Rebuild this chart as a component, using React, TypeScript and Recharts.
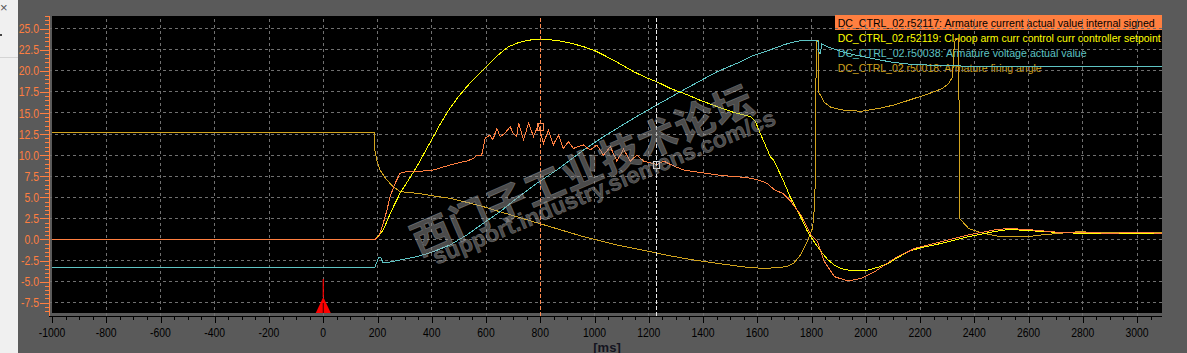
import React from 'react';
import { LineChart, Line, XAxis, YAxis, ReferenceLine, ReferenceDot } from 'recharts';

// ---------- data (time in ms, value) ----------
const currentActual: [number, number][] = [
  [-1000, 0], [190, 0], [205, 0.4], [221, 1.9], [235, 3.5], [246, 5.07], [265, 6.66], [283, 7.85], [300, 8.0],
  [345, 8.04], [406, 8.24], [467, 8.83], [529, 9.31], [555, 9.6], [566, 10.0], [584, 10.0], [597, 12.0],
  [615, 12.4], [625, 11.8], [640, 13.19], [652, 12.19], [670, 12.6], [689, 13.38], [700, 12.6], [713, 12.2],
  [720, 13.85], [738, 11.8], [757, 13.8], [775, 12.2], [793, 13.6], [812, 11.4], [830, 13.0], [848, 11.2],
  [867, 12.4], [885, 10.8], [904, 11.6], [922, 10.8], [940, 11.0], [959, 11.2], [984, 10.6], [1009, 11.2],
  [1033, 10.0], [1058, 11.0], [1082, 9.3], [1107, 10.7], [1132, 9.3], [1156, 10.0], [1181, 9.3], [1205, 9.1],
  [1230, 8.9], [1255, 9.3], [1279, 8.9], [1328, 8.24], [1400, 7.9], [1452, 7.65], [1500, 7.5], [1537, 7.41],
  [1575, 7.26], [1610, 7.0], [1636, 6.66], [1662, 5.93], [1697, 5.4], [1723, 4.54], [1760, 2.95], [1798, 0.55],
  [1822, -0.24], [1847, -2.62], [1885, -4.42], [1934, -4.93], [1983, -4.62], [2033, -3.82], [2107, -2.23],
  [2182, -1.03], [2280, -0.24], [2380, 0.55], [2479, 1.16], [2528, 1.3], [2602, 1.16], [2714, 0.84],
  [2800, 0.8], [2900, 0.75], [3000, 0.8], [3092, 0.75],
];

const currentSetpoint: [number, number][] = [
  [-1000, 0], [192, 0], [221, 1.12], [250, 3.3], [283, 5.48], [315, 7.1], [345, 8.63], [375, 10.4],
  [406, 12.19], [435, 13.9], [467, 15.56], [500, 17.0], [529, 18.12], [560, 19.2], [590, 20.1], [620, 21.1],
  [652, 22.08], [680, 22.8], [713, 23.27], [750, 23.6], [787, 23.74], [825, 23.7], [861, 23.6], [910, 23.3],
  [959, 22.87], [1000, 22.4], [1033, 21.88], [1090, 20.9], [1144, 19.9], [1190, 19.2], [1230, 18.7],
  [1280, 17.9], [1328, 17.34], [1390, 16.5], [1452, 15.75], [1510, 15.1], [1575, 14.56], [1593, 13.97],
  [1612, 12.5], [1648, 9.82], [1662, 9.32], [1697, 6.9], [1723, 4.93], [1760, 2.7], [1785, 0.96],
  [1810, -0.3], [1835, -1.43], [1860, -2.4], [1884, -3.03], [1910, -3.45], [1934, -3.62], [1970, -3.7],
  [2008, -3.62], [2045, -3.3], [2083, -2.83], [2120, -2.1], [2157, -1.43], [2200, -1.0], [2256, -0.63],
  [2300, -0.3], [2355, 0.16], [2420, 0.6], [2479, 0.96], [2528, 1.2], [2627, 1.0], [2700, 0.85],
  [2775, 0.75], [2900, 0.75], [3092, 0.75],
];

const armatureVoltage: [number, number][] = [
  [-1000, -3.38], [190, -3.38], [195, -2.9], [205, -2.1], [212, -2.1], [220, -2.8], [250, -2.65],
  [283, -2.43], [345, -2.04], [406, -1.45], [467, -0.66], [529, 0.53], [590, 1.92], [652, 3.3], [713, 4.88],
  [787, 6.66], [861, 8.24], [959, 10.61], [1033, 12.19], [1144, 14.37], [1230, 15.95], [1328, 17.73],
  [1452, 19.9], [1537, 21.05], [1575, 21.68], [1662, 22.65], [1697, 23.07], [1723, 23.33], [1759, 23.58],
  [1785, 23.57], [1816, 23.6], [1825, 23.5], [1828, 22.05], [1833, 22.05], [1837, 23.2], [1859, 22.85],
  [1909, 22.3], [1970, 21.8], [2033, 21.4], [2100, 21.0], [2157, 20.8], [2220, 20.7], [2280, 20.6],
  [2400, 20.55], [2600, 20.55], [2800, 20.5], [3092, 20.55],
];

const firingAngle: [number, number][] = [
  [-1000, 12.67], [188, 12.67], [190, 10.6], [197, 9.43], [209, 8.24], [234, 7.06], [258, 6.26],
  [283, 5.67], [345, 5.48], [400, 5.2], [467, 4.88], [530, 4.4], [590, 3.89], [650, 3.3], [713, 2.7],
  [775, 2.1], [836, 1.52], [900, 0.9], [959, 0.33], [1020, -0.15], [1082, -0.66], [1145, -1.05],
  [1205, -1.45], [1265, -1.85], [1328, -2.23], [1390, -2.55], [1452, -2.83], [1515, -3.1], [1575, -3.35],
  [1630, -3.42], [1673, -3.35], [1710, -3.2], [1734, -2.83], [1759, -1.84], [1785, -0.24], [1804, 1.36],
  [1810, 3.5], [1813, 6.13], [1816, 18.1], [1819, 23.65], [1824, 23.65], [1826, 17.48], [1847, 16.28],
  [1870, 15.7], [1909, 15.37], [1983, 15.2], [2058, 15.6], [2110, 16.0], [2157, 16.49], [2231, 17.28],
  [2280, 17.87], [2305, 18.47], [2320, 19.27], [2325, 22.45], [2330, 23.84], [2343, 23.84], [2345, 2.55],
  [2355, 2.16], [2380, 1.28], [2430, 0.77], [2492, 0.36], [2602, 0.36], [2652, 0.55], [2775, 0.9],
  [2900, 0.85], [3092, 0.8],
];

const seriesNames = [
  'DC_CTRL_02.r52117: Armature current actual value internal signed',
  'DC_CTRL_02.r52119: Cl-loop arm curr control curr controller setpoint',
  'DC_CTRL_02.r50038: Armature voltage actual value',
  'DC_CTRL_02.r50018: Armature firing angle',
];
const seriesColors = ['#ff7f40', '#ffff00', '#5ec4c4', '#d2a41e'];
const legendWidths = [317, 323, 249, 204];

const xMajorTicks = [-1000, -800, -600, -400, -200, 0, 200, 400, 600, 800, 1000, 1200, 1400, 1600, 1800, 2000, 2200, 2400, 2600, 2800, 3000];
const yMajorTicks = [-7.5, -5, -2.5, 0, 2.5, 5, 7.5, 10, 12.5, 15, 17.5, 20, 22.5, 25];
const xMinorOffsets = [0, 50, 100, 150];
const yMinorOffsets = [-1, -0.5, 0, 0.5, 1, 1.5];
const xDomain: [number, number] = [-1000, 3092];
const yDomain: [number, number] = [-8.72, 26.5];
const cursorA = 800;
const cursorB = 1230;
const triggerTime = 0;
const markA = 13.38;
const markB = 8.89;

const xTicks = Array.from(new Set(xMajorTicks.flatMap((t) => xMinorOffsets.map((o) => t + o)))).filter((t) => t <= xDomain[1]);
const yTicks = Array.from(new Set(yMajorTicks.flatMap((t) => yMinorOffsets.map((o) => +(t + o).toFixed(1))))).filter((t) => t >= yDomain[0] && t <= yDomain[1]).sort((a, b) => a - b);
const xGrid = xMajorTicks.filter((t) => t !== -1000 && t !== cursorA);

const toPts = (a: [number, number][]) => a.map(([t, v]) => ({ t, v }));

const ORANGE = '#ff7f40';
const GRID = '#707070';
const FONT = '"Liberation Sans", Arial, sans-serif';
const LEGEND_SX = 0.82;

const charW = (c: string) => (c === '.' ? 0.278 : c === '-' ? 0.333 : 0.556);
const numWidth = (s: string, fs: number) => s.split('').reduce((a, c) => a + charW(c), 0) * fs * 0.8;

const isMajor = (v: number, step: number) => Math.abs(v / step - Math.round(v / step)) < 1e-6;

const YTick = (props: any) => {
  const { x, y, payload } = props;
  const v = payload.value as number;
  const major = isMajor(v, 2.5);
  const yy = Math.round(y) + 0.5;
  const label = v.toFixed(1);
  return (
    <g>
      <line x1={major ? x - 9 : x - 4} x2={x} y1={yy} y2={yy} stroke={ORANGE} strokeWidth={1} shapeRendering="crispEdges" />
      {major && (
        <text x={x - 10} y={y + 4.6} textAnchor="end" fill={ORANGE} fontSize={13} fontFamily={FONT}
          textLength={numWidth(label, 13)} lengthAdjust="spacingAndGlyphs">{label}</text>
      )}
    </g>
  );
};

const XTick = (props: any) => {
  const { x, y, payload } = props;
  const v = payload.value as number;
  const major = isMajor(v, 200);
  const xx = Math.round(x) + 0.5;
  const label = String(v);
  return (
    <g>
      <line x1={xx} x2={xx} y1={y} y2={y + (major ? 7 : 3.5)} stroke="#000" strokeWidth={1} shapeRendering="crispEdges" />
      {major && (
        <text x={x} y={y + 20.7} textAnchor="middle" fill="#000" fontSize={13} fontFamily={FONT}
          textLength={numWidth(label, 13)} lengthAdjust="spacingAndGlyphs">{label}</text>
      )}
    </g>
  );
};

const Trigger = (props: any) => {
  const { cx, cy } = props;
  return (
    <g>
      <line x1={cx} x2={cx} y1={cy - 34} y2={cy - 16} stroke="#ff0000" strokeWidth={1.2} />
      <path d={`M${cx},${cy - 16} L${cx - 7.5},${cy} L${cx + 7.5},${cy} Z`} fill="#ff0000" />
      <line x1={cx} x2={cx} y1={cy - 10} y2={cy} stroke="#400000" strokeWidth={1} />
    </g>
  );
};

const SquareMark = (color: string) => (props: any) => {
  const { cx, cy } = props;
  return <rect x={cx - 3} y={cy - 3.5} width={6} height={7} fill="none" stroke={color} strokeWidth={1} shapeRendering="crispEdges" />;
};

const gridLines = [
  ...yMajorTicks.map((v) => <ReferenceLine key={`h${v}`} y={v} stroke={GRID} strokeDasharray="3 3" strokeWidth={1} shapeRendering="crispEdges" />),
  ...xGrid.map((t) => <ReferenceLine key={`v${t}`} x={t} stroke={GRID} strokeDasharray="3 3" strokeWidth={1} shapeRendering="crispEdges" />),
];

const lineProps = { dataKey: 'v', type: 'linear' as const, dot: false, activeDot: false, strokeWidth: 1, isAnimationActive: false, shapeRendering: 'crispEdges' };

export default function App() {
  return (
    <div style={{ position: 'absolute', left: 0, top: 0, width: 1187, height: 353, background: '#5a5a5a', overflow: 'hidden', fontFamily: FONT }}>
      {/* window strip on the left */}
      <div style={{ position: 'absolute', left: 0, top: 0, width: 18, height: 353, background: '#f0f0f0' }}>
        <div style={{ position: 'absolute', left: 0, top: 1, fontSize: 13, lineHeight: '13px', color: '#555' }}>×</div>
        <div style={{ position: 'absolute', left: 0, top: 34, width: 2, height: 2, background: '#444' }} />
        <div style={{ position: 'absolute', left: 0, top: 57, width: 18, height: 1, background: '#d4d4d4' }} />
      </div>
      {/* plot background */}
      <div style={{ position: 'absolute', left: 52, top: 16, width: 1110, height: 297, background: '#000' }} />
      {/* legend */}
      <svg style={{ position: 'absolute', left: 0, top: 0 }} width={1187} height={353}>
        <rect x={835} y={15} width={327} height={15} fill={ORANGE} />
        {seriesNames.map((n, i) => (
          <g key={n} transform={`translate(837.7 ${27.3 + i * 15}) scale(${LEGEND_SX} 1)`}>
            <text x={0} y={0} fontSize={11.6} fontFamily={FONT}
              fill={i === 0 ? '#000' : seriesColors[i]} textLength={legendWidths[i] / LEGEND_SX} lengthAdjust="spacingAndGlyphs">{n}</text>
          </g>
        ))}
      </svg>
      <div style={{ position: 'absolute', left: 0, top: 0 }}>
        <LineChart width={1187} height={353} margin={{ top: 16, right: 25, left: 0, bottom: 0 }}>
          <XAxis dataKey="t" type="number" domain={xDomain} allowDataOverflow ticks={xTicks} interval={0}
            height={37} padding={{ left: 3, right: 0 }} tickLine={false} tickSize={0} tickMargin={0}
            axisLine={{ stroke: '#000', strokeWidth: 1, shapeRendering: 'crispEdges' }} tick={<XTick />} />
          <YAxis type="number" domain={yDomain} allowDataOverflow ticks={yTicks} interval={0}
            width={49} padding={{ top: 0, bottom: 3 }} tickLine={false} tickSize={0} tickMargin={0}
            axisLine={{ stroke: ORANGE, strokeWidth: 1, shapeRendering: 'crispEdges' }} tick={<YTick />} />
          {gridLines}
          <Line data={toPts(firingAngle)} stroke={seriesColors[3]} {...lineProps} />
          <Line data={toPts(armatureVoltage)} stroke={seriesColors[2]} {...lineProps} />
          <Line data={toPts(currentSetpoint)} stroke={seriesColors[1]} {...lineProps} />
          <Line data={toPts(currentActual)} stroke={seriesColors[0]} {...lineProps} />
          <ReferenceLine x={cursorA} stroke="#ff8a50" strokeDasharray="4 2" strokeWidth={1} shapeRendering="crispEdges" />
          <ReferenceLine x={cursorB} stroke="#ececec" strokeDasharray="4 2" strokeWidth={1} shapeRendering="crispEdges" />
          <ReferenceDot x={cursorA} y={markA} r={3} shape={SquareMark('#ff8a50')} ifOverflow="visible" />
          <ReferenceDot x={cursorB} y={markB} r={3} shape={SquareMark('#dddddd')} ifOverflow="visible" />
          <ReferenceDot x={triggerTime} y={yDomain[0]} r={3} shape={Trigger} ifOverflow="visible" />
        </LineChart>
      </div>
      {/* axis unit + watermark */}
      <svg style={{ position: 'absolute', left: 0, top: 0, pointerEvents: 'none' }} width={1187} height={353}>
        <text x={607} y={351.5} textAnchor="middle" fontSize={13} fontWeight={700} fontFamily={FONT} fill="#141420">[ms]</text>
        <text x={581} y={168} transform="rotate(-23.3 581 168)" textAnchor="middle" dominantBaseline="central"
          fontFamily='"Noto Sans CJK SC", sans-serif' fontWeight={700} fontSize={40} fill="rgba(150,150,150,0.5)"
          stroke="rgba(220,220,220,0.3)" strokeWidth={0.8} textLength={368} lengthAdjust="spacing">西门子工业技术论坛</text>
        <text x={604} y={187} transform="rotate(-22.5 604 187)" textAnchor="middle" dominantBaseline="central"
          fontFamily={FONT} fontWeight={700} fontSize={23} fill="rgba(150,150,150,0.5)"
          stroke="rgba(220,220,220,0.3)" strokeWidth={0.6} textLength={369} lengthAdjust="spacingAndGlyphs">support.industry.siemens.com/cs</text>
      </svg>
    </div>
  );
}
